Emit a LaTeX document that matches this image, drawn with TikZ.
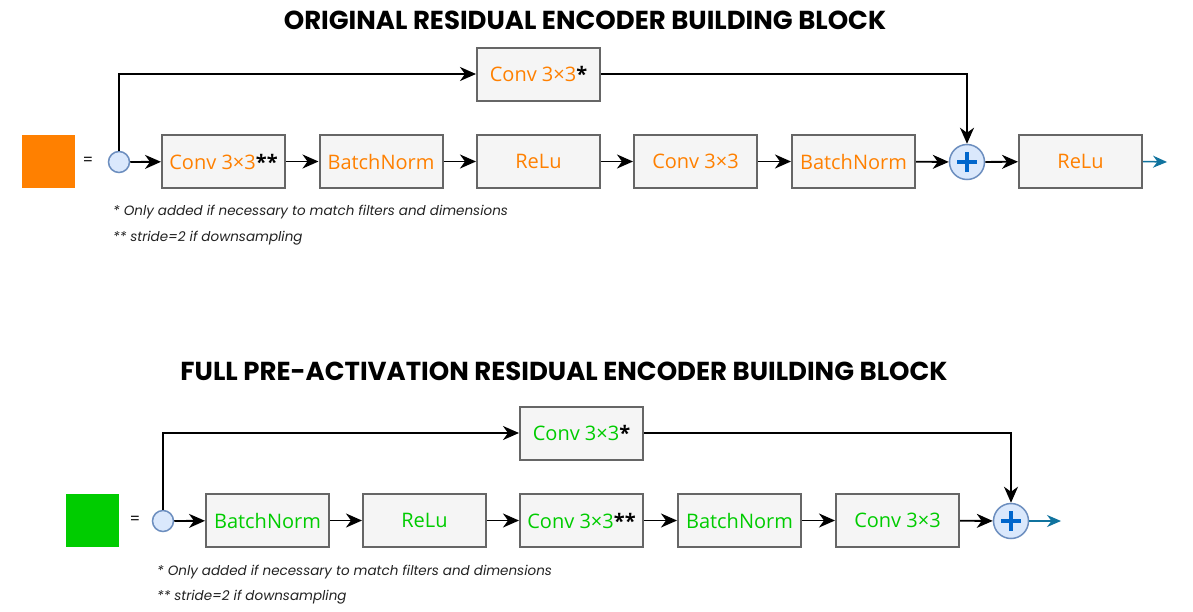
\documentclass[tikz,border=0pt]{standalone}
\usepackage{fontspec}
\setmainfont{Open Sans}
\newfontfamily\titlefont{Poppins}
\usetikzlibrary{arrows.meta}
\definecolor{org}{HTML}{FF8000}
\definecolor{grn}{HTML}{00CC00}
\definecolor{boxfill}{HTML}{F5F5F5}
\definecolor{boxline}{HTML}{666666}
\definecolor{cfill}{HTML}{DAE8FC}
\definecolor{cline}{HTML}{6C8EBF}
\definecolor{plusblue}{HTML}{0066CC}
\definecolor{tealc}{HTML}{10739E}
\definecolor{notec}{HTML}{222222}
\tikzset{
  blockbox/.style={draw=boxline, fill=boxfill, line width=2pt, minimum width=123pt, minimum height=53pt, inner sep=0pt, font=\fontsize{20}{20}\selectfont},
  inbox/.style={circle, draw=cline, fill=cfill, line width=1.5pt, minimum size=21pt, inner sep=0pt},
  sumbox/.style={circle, draw=cline, fill=cfill, line width=1.5pt, minimum size=35pt, inner sep=0pt},
  arr/.style={draw=black, line width=1.8pt, -{Stealth[length=16pt,width=14pt,inset=5pt]}},
  outarr/.style={draw=tealc, line width=1.5pt, -{Stealth[length=14pt,width=12pt,inset=4.5pt]}},
  plusline/.style={draw=plusblue, line width=4pt},
  titletext/.style={font=\titlefont\bfseries\fontsize{26}{26}\selectfont},
  notetext/.style={anchor=west, inner sep=0pt, text=notec, font=\titlefont\itshape\fontsize{13.5}{13.5}\selectfont},
  eqtext/.style={font=\fontsize{17}{17}\selectfont},
}
\begin{document}
\begin{tikzpicture}[x=1pt,y=-1pt]
\useasboundingbox (0,0) rectangle (1193,611);
\fill[white] (0,0) rectangle (1193,611);

% ---------- top block ----------
\node[titletext] (t1) at (585,20) {ORIGINAL RESIDUAL ENCODER BUILDING BLOCK};
\node[fill=org, minimum size=53pt, inner sep=0pt] (sq1) at (48.5,161.5) {};
\node[eqtext] (eq1) at (88,161) {=};
\node[inbox] (in1) at (119,162) {};
\node[blockbox, text=org] (a1) at (223.5,161.5) {Conv 3×3\textcolor{black}{\bfseries **}};
\node[blockbox, text=org] (a2) at (381,161.5) {BatchNorm};
\node[blockbox, text=org] (a3) at (538.5,161.5) {ReLu};
\node[blockbox, text=org] (a4) at (695.5,161.5) {Conv 3×3};
\node[blockbox, text=org] (a5) at (853.5,161.5) {BatchNorm};
\node[sumbox] (p1) at (967,162) {};
\node[blockbox, text=org] (a6) at (1080.5,161.5) {ReLu};
\node[blockbox, text=org] (s1) at (538.5,74) {Conv 3×3\textcolor{black}{\bfseries *}};
\coordinate (o1) at (1167,162);
\draw[plusline] ([xshift=-10pt]p1.center) -- ([xshift=10pt]p1.center);
\draw[plusline] ([yshift=-10pt]p1.center) -- ([yshift=10pt]p1.center);
\draw[arr] (in1) -- (a1);
\draw[arr] (a1) -- (a2);
\draw[arr] (a2) -- (a3);
\draw[arr] (a3) -- (a4);
\draw[arr] (a4) -- (a5);
\draw[arr] (a5) -- (p1);
\draw[arr] (p1) -- (a6);
\draw[outarr] (a6.east) -- (o1);
\draw[arr] (in1.north) |- (s1.west);
\draw[arr] (s1.east) -| (p1.north);
\node[notetext] (n1) at (113,212) {* Only added if necessary to match filters and dimensions};
\node[notetext] (n2) at (113,238) {** stride=2 if downsampling};

% ---------- bottom block ----------
\node[titletext] (t2) at (564,371) {FULL PRE-ACTIVATION RESIDUAL ENCODER BUILDING BLOCK};
\node[fill=grn, minimum size=53pt, inner sep=0pt] (sq2) at (92.5,520.5) {};
\node[eqtext] (eq2) at (135,520) {=};
\node[inbox] (in2) at (163,521) {};
\node[blockbox, text=grn] (b1) at (267.5,520.5) {BatchNorm};
\node[blockbox, text=grn] (b2) at (424.5,520.5) {ReLu};
\node[blockbox, text=grn] (b3) at (581.5,520.5) {Conv 3×3\textcolor{black}{\bfseries **}};
\node[blockbox, text=grn] (b4) at (739.5,520.5) {BatchNorm};
\node[blockbox, text=grn] (b5) at (897.5,520.5) {Conv 3×3};
\node[sumbox] (p2) at (1011,521) {};
\node[blockbox, text=grn] (s2) at (581.5,433) {Conv 3×3\textcolor{black}{\bfseries *}};
\coordinate (o2) at (1061,521);
\draw[plusline] ([xshift=-10pt]p2.center) -- ([xshift=10pt]p2.center);
\draw[plusline] ([yshift=-10pt]p2.center) -- ([yshift=10pt]p2.center);
\draw[arr] (in2) -- (b1);
\draw[arr] (b1) -- (b2);
\draw[arr] (b2) -- (b3);
\draw[arr] (b3) -- (b4);
\draw[arr] (b4) -- (b5);
\draw[arr] (b5) -- (p2);
\draw[outarr] (p2.east) -- (o2);
\draw[arr] (in2.north) |- (s2.west);
\draw[arr] (s2.east) -| (p2.north);
\node[notetext] (n3) at (157,572) {* Only added if necessary to match filters and dimensions};
\node[notetext] (n4) at (157,597) {** stride=2 if downsampling};
\end{tikzpicture}
\end{document}
